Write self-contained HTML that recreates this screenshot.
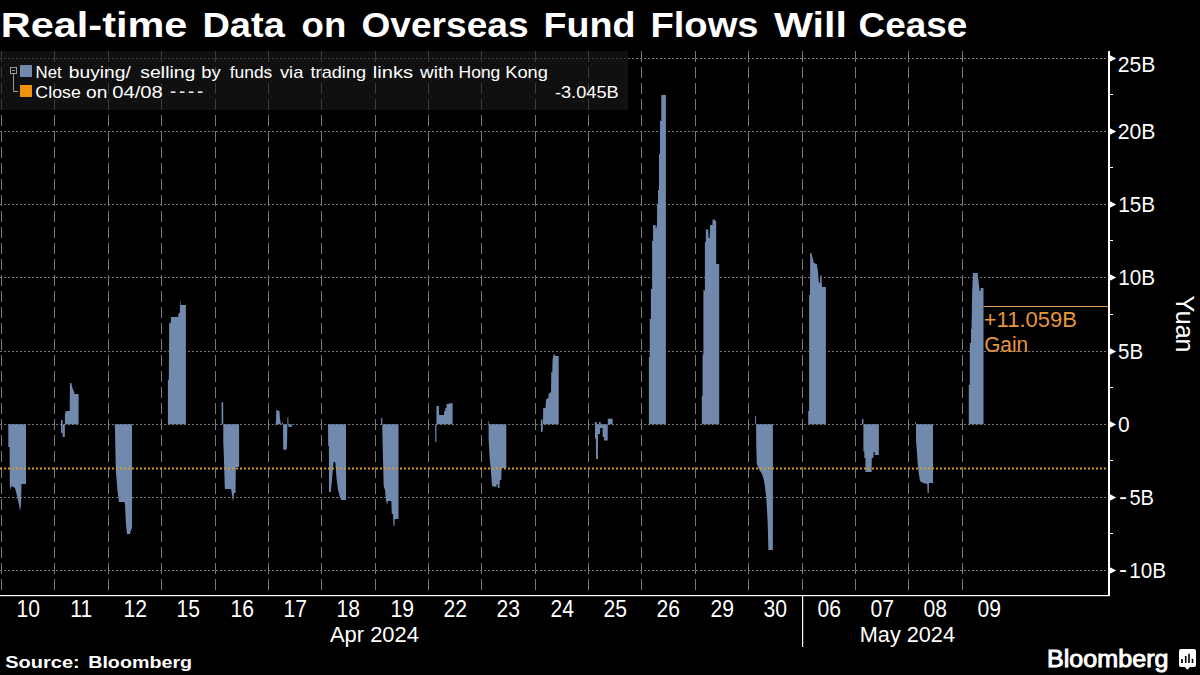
<!DOCTYPE html>
<html><head><meta charset="utf-8"><title>Real-time Data on Overseas Fund Flows Will Cease</title>
<style>
html,body{margin:0;padding:0;background:#000;width:1200px;height:675px;overflow:hidden;font-family:"Liberation Sans",sans-serif;}
svg{display:block;}
</style></head><body>
<svg width="1200" height="675" viewBox="0 0 1200 675"><text x="0.72" y="37" font-family="Liberation Sans" font-weight="bold" font-size="35.5" fill="#fff" textLength="186.71" lengthAdjust="spacingAndGlyphs">Real-time</text><text x="202.45" y="37" font-family="Liberation Sans" font-weight="bold" font-size="35.5" fill="#fff" textLength="82.34" lengthAdjust="spacingAndGlyphs">Data</text><text x="301.57" y="37" font-family="Liberation Sans" font-weight="bold" font-size="35.5" fill="#fff" textLength="44.68" lengthAdjust="spacingAndGlyphs">on</text><text x="361.48" y="37" font-family="Liberation Sans" font-weight="bold" font-size="35.5" fill="#fff" textLength="167.04" lengthAdjust="spacingAndGlyphs">Overseas</text><text x="543.48" y="37" font-family="Liberation Sans" font-weight="bold" font-size="35.5" fill="#fff" textLength="91.98" lengthAdjust="spacingAndGlyphs">Fund</text><text x="650.44" y="37" font-family="Liberation Sans" font-weight="bold" font-size="35.5" fill="#fff" textLength="108.14" lengthAdjust="spacingAndGlyphs">Flows</text><text x="773.96" y="37" font-family="Liberation Sans" font-weight="bold" font-size="35.5" fill="#fff" textLength="72.95" lengthAdjust="spacingAndGlyphs">Will</text><text x="858.49" y="37" font-family="Liberation Sans" font-weight="bold" font-size="35.5" fill="#fff" textLength="108.76" lengthAdjust="spacingAndGlyphs">Cease</text><line x1="0" y1="58.5" x2="1108" y2="58.5" stroke="#777777" stroke-width="1" stroke-dasharray="2 2"/><line x1="0" y1="131.5" x2="1108" y2="131.5" stroke="#777777" stroke-width="1" stroke-dasharray="2 2"/><line x1="0" y1="204.5" x2="1108" y2="204.5" stroke="#777777" stroke-width="1" stroke-dasharray="2 2"/><line x1="0" y1="277.5" x2="1108" y2="277.5" stroke="#777777" stroke-width="1" stroke-dasharray="2 2"/><line x1="0" y1="351.5" x2="1108" y2="351.5" stroke="#777777" stroke-width="1" stroke-dasharray="2 2"/><line x1="0" y1="424.5" x2="1108" y2="424.5" stroke="#777777" stroke-width="1" stroke-dasharray="2 2"/><line x1="0" y1="497.5" x2="1108" y2="497.5" stroke="#777777" stroke-width="1" stroke-dasharray="2 2"/><line x1="0" y1="570.5" x2="1108" y2="570.5" stroke="#777777" stroke-width="1" stroke-dasharray="2 2"/><line x1="1.5" y1="51" x2="1.5" y2="595" stroke="#777777" stroke-width="1" stroke-dasharray="11 5"/><line x1="54.5" y1="51" x2="54.5" y2="595" stroke="#777777" stroke-width="1" stroke-dasharray="11 5"/><line x1="108.5" y1="51" x2="108.5" y2="595" stroke="#777777" stroke-width="1" stroke-dasharray="11 5"/><line x1="161.5" y1="51" x2="161.5" y2="595" stroke="#777777" stroke-width="1" stroke-dasharray="11 5"/><line x1="215.5" y1="51" x2="215.5" y2="595" stroke="#777777" stroke-width="1" stroke-dasharray="11 5"/><line x1="268.5" y1="51" x2="268.5" y2="595" stroke="#777777" stroke-width="1" stroke-dasharray="11 5"/><line x1="321.5" y1="51" x2="321.5" y2="595" stroke="#777777" stroke-width="1" stroke-dasharray="11 5"/><line x1="375.5" y1="51" x2="375.5" y2="595" stroke="#777777" stroke-width="1" stroke-dasharray="11 5"/><line x1="428.5" y1="51" x2="428.5" y2="595" stroke="#777777" stroke-width="1" stroke-dasharray="11 5"/><line x1="481.5" y1="51" x2="481.5" y2="595" stroke="#777777" stroke-width="1" stroke-dasharray="11 5"/><line x1="535.5" y1="51" x2="535.5" y2="595" stroke="#777777" stroke-width="1" stroke-dasharray="11 5"/><line x1="588.5" y1="51" x2="588.5" y2="595" stroke="#777777" stroke-width="1" stroke-dasharray="11 5"/><line x1="641.5" y1="51" x2="641.5" y2="595" stroke="#777777" stroke-width="1" stroke-dasharray="11 5"/><line x1="695.5" y1="51" x2="695.5" y2="595" stroke="#777777" stroke-width="1" stroke-dasharray="11 5"/><line x1="748.5" y1="51" x2="748.5" y2="595" stroke="#777777" stroke-width="1" stroke-dasharray="11 5"/><line x1="855.5" y1="51" x2="855.5" y2="595" stroke="#777777" stroke-width="1" stroke-dasharray="11 5"/><line x1="908.5" y1="51" x2="908.5" y2="595" stroke="#777777" stroke-width="1" stroke-dasharray="11 5"/><line x1="962.5" y1="51" x2="962.5" y2="595" stroke="#777777" stroke-width="1" stroke-dasharray="11 5"/><rect x="0" y="51" width="628" height="59" fill="rgb(26,26,26)" fill-opacity="0.62"/><polygon points="8.3,424.3 8.3,447.0 9.6,447.0 9.8,486.0 10.5,490.0 11.5,486.0 15.0,488.0 17.0,496.0 19.0,505.0 20.0,511.0 21.0,505.0 21.5,484.0 26.0,484.0 26.0,424.3" fill="#7189ad"/><polygon points="61.0,424.3 61.0,420.0 62.6,420.0 62.7,437.0 64.8,437.0 64.9,414.6 65.9,411.0 69.7,411.0 69.9,383.0 71.3,383.0 72.2,387.0 73.2,390.0 74.2,392.0 74.3,394.0 78.6,394.0 78.6,424.3" fill="#7189ad"/><polygon points="114.5,424.3 114.5,422.0 115.0,430.0 115.3,445.0 115.8,470.0 117.3,489.0 119.0,502.0 124.5,502.0 125.0,505.0 126.0,525.0 127.0,534.0 130.0,534.0 131.0,530.0 132.0,528.0 132.0,424.3" fill="#7189ad"/><polygon points="167.9,424.3 167.9,380.0 168.8,380.0 169.2,323.0 170.8,323.0 171.0,317.0 178.3,317.0 178.5,313.0 179.8,313.0 180.2,299.0 180.8,305.0 185.9,305.0 185.9,424.3" fill="#7189ad"/><polygon points="221.6,424.3 221.6,402.3 223.2,402.3 223.3,443.0 224.0,460.0 224.8,489.0 228.0,489.0 231.0,489.0 232.0,495.0 233.2,502.0 234.0,493.0 235.5,493.0 235.8,467.0 239.1,467.0 239.1,424.3" fill="#7189ad"/><polygon points="275.2,424.3 275.2,428.0 276.0,421.0 276.2,410.0 279.5,411.0 280.0,419.0 281.0,424.3 283.0,422.0 283.2,449.7 286.5,449.7 287.0,447.0 287.5,417.0 288.3,417.0 288.5,427.0 291.8,427.0 291.8,424.3" fill="#7189ad"/><polygon points="328.0,424.3 328.0,422.0 328.2,446.0 328.9,446.0 329.0,492.0 330.8,492.0 333.6,462.0 335.3,462.0 336.5,478.0 338.0,490.0 340.0,497.0 341.3,500.0 346.0,500.0 346.0,424.3" fill="#7189ad"/><polygon points="381.1,424.3 381.1,418.0 382.3,418.0 382.3,430.0 382.8,452.0 383.7,486.0 385.0,490.0 386.0,500.0 387.0,505.0 387.9,501.0 391.3,501.0 391.8,514.0 393.0,514.0 393.5,526.0 394.5,526.0 394.8,519.0 398.5,519.0 398.5,424.3" fill="#7189ad"/><polygon points="435.2,424.3 435.2,442.0 436.4,442.0 436.5,406.0 438.9,406.0 439.1,415.0 444.0,415.0 444.2,411.0 445.2,411.0 445.4,408.0 446.4,408.0 446.6,404.0 452.6,403.0 452.6,424.3" fill="#7189ad"/><polygon points="487.9,424.3 487.9,421.0 488.6,421.0 488.6,439.0 489.7,459.0 490.9,470.0 492.0,486.0 496.3,487.0 496.8,484.0 497.6,484.0 497.9,488.0 499.5,488.0 499.8,480.0 501.3,480.0 501.6,468.0 506.3,468.0 506.3,424.3" fill="#7189ad"/><polygon points="540.9,424.3 540.9,419.0 541.5,430.0 542.3,432.0 543.0,420.0 543.2,408.0 545.5,408.0 545.7,404.0 546.2,399.0 548.4,398.0 548.6,394.0 551.0,392.0 551.3,372.0 552.3,372.0 552.6,359.0 553.5,355.0 554.5,354.0 555.4,356.0 558.7,356.0 558.7,424.3" fill="#7189ad"/><polygon points="595.0,424.3 595.0,438.7 595.9,438.7 596.0,459.0 597.9,459.0 598.0,434.0 600.0,434.0 600.1,428.0 602.6,428.0 602.7,437.0 604.0,437.0 604.1,440.5 607.7,440.5 607.8,418.7 612.7,418.7 612.7,424.3" fill="#7189ad"/><polygon points="648.9,424.3 648.9,357.0 649.7,357.0 649.7,319.0 650.9,319.0 650.9,289.0 652.1,289.0 652.1,241.0 653.1,241.0 653.1,225.0 655.5,225.0 656.0,229.0 657.0,225.0 657.1,204.0 658.0,204.0 658.0,190.0 659.0,190.0 659.0,154.0 660.0,154.0 660.0,121.0 661.3,121.0 661.3,95.0 665.9,95.0 665.9,424.3" fill="#7189ad"/><polygon points="701.8,424.3 701.8,396.0 702.6,396.0 702.6,354.5 703.4,354.5 703.4,290.0 704.6,290.0 704.6,291.0 704.9,291.0 704.9,242.0 705.8,242.0 705.8,229.5 708.2,229.5 708.6,238.0 709.7,238.0 710.0,225.0 712.4,225.0 712.6,219.5 714.6,219.5 715.5,221.0 716.2,221.0 716.2,264.0 719.2,264.0 719.2,424.3" fill="#7189ad"/><polygon points="755.1,424.3 755.1,416.0 756.0,416.0 756.3,448.0 756.8,464.0 758.4,468.0 760.7,472.0 762.0,474.0 764.2,481.0 766.3,498.0 767.7,523.0 768.4,550.0 772.9,550.0 772.9,424.3" fill="#7189ad"/><polygon points="808.2,424.3 808.2,411.0 809.1,411.0 809.1,295.0 810.0,295.0 810.2,253.0 811.5,253.0 812.4,257.0 813.9,263.0 816.8,264.0 818.0,272.0 819.0,283.0 819.8,283.0 820.5,275.0 821.3,275.0 822.0,287.0 825.9,287.0 825.9,424.3" fill="#7189ad"/><polygon points="862.0,424.3 862.0,419.0 863.4,419.0 863.4,451.5 864.3,451.5 864.3,458.0 865.4,458.0 865.4,472.0 871.6,472.0 871.8,458.0 873.4,458.0 873.6,452.0 874.7,452.0 874.8,455.0 878.9,455.0 878.9,424.3" fill="#7189ad"/><polygon points="915.3,424.3 915.3,422.0 916.0,422.0 916.0,440.0 916.7,449.0 917.6,463.0 918.7,473.0 920.0,481.0 923.0,483.0 927.3,484.0 927.6,493.0 928.8,493.0 929.0,483.0 933.0,483.0 933.0,424.3" fill="#7189ad"/><polygon points="968.8,424.3 968.8,385.0 969.8,385.0 969.8,343.0 971.0,343.0 971.0,329.0 971.5,329.0 972.2,292.0 972.9,273.0 977.6,273.0 979.1,286.0 979.5,291.0 980.5,291.0 980.7,288.0 983.5,288.0 983.5,424.3" fill="#7189ad"/><rect x="595" y="422" width="1.8" height="2.4" fill="#7189ad"/><rect x="61" y="424" width="1.6" height="9" fill="#7189ad"/><rect x="541" y="419.5" width="1.4" height="12.5" fill="#7189ad"/><rect x="598.9" y="422" width="1.8" height="2.4" fill="#7189ad"/><line x1="0" y1="468.5" x2="1107" y2="468.5" stroke="#d09a3c" stroke-width="2" stroke-dasharray="2 2"/><rect x="1108" y="51" width="2" height="545" fill="#fff"/><rect x="0" y="595" width="1110" height="1.2" fill="#fff"/><line x1="802.5" y1="51" x2="802.5" y2="595" stroke="#777777" stroke-width="1" stroke-dasharray="11 5"/><rect x="802" y="595" width="1.2" height="52" fill="#fff"/><polygon points="1110,55.3 1116.2,58.5 1110,61.7" fill="#fff"/><rect x="1110" y="94" width="3" height="1" fill="#fff"/><polygon points="1110,128.3 1116.2,131.5 1110,134.7" fill="#fff"/><rect x="1110" y="167" width="3" height="1" fill="#fff"/><polygon points="1110,201.3 1116.2,204.5 1110,207.7" fill="#fff"/><rect x="1110" y="240" width="3" height="1" fill="#fff"/><polygon points="1110,274.3 1116.2,277.5 1110,280.7" fill="#fff"/><rect x="1110" y="314" width="3" height="1" fill="#fff"/><polygon points="1110,348.3 1116.2,351.5 1110,354.7" fill="#fff"/><rect x="1110" y="387" width="3" height="1" fill="#fff"/><polygon points="1110,421.3 1116.2,424.5 1110,427.7" fill="#fff"/><rect x="1110" y="460" width="3" height="1" fill="#fff"/><polygon points="1110,494.3 1116.2,497.5 1110,500.7" fill="#fff"/><rect x="1110" y="533" width="3" height="1" fill="#fff"/><polygon points="1110,567.3 1116.2,570.5 1110,573.7" fill="#fff"/><text x="1117.69" y="72" font-family="Liberation Sans" font-size="22.5" fill="#fff" textLength="37.64" lengthAdjust="spacingAndGlyphs">25B</text><text x="1117.69" y="139" font-family="Liberation Sans" font-size="22.5" fill="#fff" textLength="37.69" lengthAdjust="spacingAndGlyphs">20B</text><text x="1118.17" y="211.8" font-family="Liberation Sans" font-size="22.5" fill="#fff" textLength="36.93" lengthAdjust="spacingAndGlyphs">15B</text><text x="1118.17" y="284.8" font-family="Liberation Sans" font-size="22.5" fill="#fff" textLength="36.93" lengthAdjust="spacingAndGlyphs">10B</text><text x="1118.08" y="358.7" font-family="Liberation Sans" font-size="22.5" fill="#fff" textLength="25.00" lengthAdjust="spacingAndGlyphs">5B</text><text x="1118.08" y="431.9" font-family="Liberation Sans" font-size="22.5" fill="#fff" textLength="11.64" lengthAdjust="spacingAndGlyphs">0</text><text x="1129.40" y="504.9" font-family="Liberation Sans" font-size="22.5" fill="#fff" textLength="24.57" lengthAdjust="spacingAndGlyphs">5B</text><text x="1129.33" y="577.9" font-family="Liberation Sans" font-size="22.5" fill="#fff" textLength="36.77" lengthAdjust="spacingAndGlyphs">10B</text><rect x="1120.2" y="497.2" width="5.9" height="1.9" fill="#fff"/><rect x="1120.2" y="570.1" width="5.9" height="1.9" fill="#fff"/><text transform="translate(1176.2,295.45) rotate(90)" x="0" y="0" font-family="Liberation Sans" font-size="25.6" fill="#fff" textLength="57.09" lengthAdjust="spacingAndGlyphs">Yuan</text><line x1="983.5" y1="306.5" x2="1108" y2="306.5" stroke="#e39a55" stroke-width="1"/><text x="983.72" y="326.9" font-family="Liberation Sans" font-size="21.5" fill="#e6963c" textLength="93.15" lengthAdjust="spacingAndGlyphs">+11.059B</text><text x="984.16" y="351.5" font-family="Liberation Sans" font-size="21.5" fill="#e6963c" textLength="44.00" lengthAdjust="spacingAndGlyphs">Gain</text><text transform="translate(28.17,617) scale(0.92,1)" x="0" y="0" font-family="Liberation Sans" font-size="23" fill="#fff" text-anchor="middle">10</text><text transform="translate(81.17,617) scale(0.92,1)" x="0" y="0" font-family="Liberation Sans" font-size="23" fill="#fff" text-anchor="middle">11</text><text transform="translate(135.17,617) scale(0.92,1)" x="0" y="0" font-family="Liberation Sans" font-size="23" fill="#fff" text-anchor="middle">12</text><text transform="translate(188.17,617) scale(0.92,1)" x="0" y="0" font-family="Liberation Sans" font-size="23" fill="#fff" text-anchor="middle">15</text><text transform="translate(242.17,617) scale(0.92,1)" x="0" y="0" font-family="Liberation Sans" font-size="23" fill="#fff" text-anchor="middle">16</text><text transform="translate(295.17,617) scale(0.92,1)" x="0" y="0" font-family="Liberation Sans" font-size="23" fill="#fff" text-anchor="middle">17</text><text transform="translate(348.17,617) scale(0.92,1)" x="0" y="0" font-family="Liberation Sans" font-size="23" fill="#fff" text-anchor="middle">18</text><text transform="translate(402.17,617) scale(0.92,1)" x="0" y="0" font-family="Liberation Sans" font-size="23" fill="#fff" text-anchor="middle">19</text><text transform="translate(455.17,617) scale(0.92,1)" x="0" y="0" font-family="Liberation Sans" font-size="23" fill="#fff" text-anchor="middle">22</text><text transform="translate(508.17,617) scale(0.92,1)" x="0" y="0" font-family="Liberation Sans" font-size="23" fill="#fff" text-anchor="middle">23</text><text transform="translate(562.17,617) scale(0.92,1)" x="0" y="0" font-family="Liberation Sans" font-size="23" fill="#fff" text-anchor="middle">24</text><text transform="translate(615.17,617) scale(0.92,1)" x="0" y="0" font-family="Liberation Sans" font-size="23" fill="#fff" text-anchor="middle">25</text><text transform="translate(668.17,617) scale(0.92,1)" x="0" y="0" font-family="Liberation Sans" font-size="23" fill="#fff" text-anchor="middle">26</text><text transform="translate(722.17,617) scale(0.92,1)" x="0" y="0" font-family="Liberation Sans" font-size="23" fill="#fff" text-anchor="middle">29</text><text transform="translate(775.17,617) scale(0.92,1)" x="0" y="0" font-family="Liberation Sans" font-size="23" fill="#fff" text-anchor="middle">30</text><text transform="translate(829.17,617) scale(0.92,1)" x="0" y="0" font-family="Liberation Sans" font-size="23" fill="#fff" text-anchor="middle">06</text><text transform="translate(882.17,617) scale(0.92,1)" x="0" y="0" font-family="Liberation Sans" font-size="23" fill="#fff" text-anchor="middle">07</text><text transform="translate(935.17,617) scale(0.92,1)" x="0" y="0" font-family="Liberation Sans" font-size="23" fill="#fff" text-anchor="middle">08</text><text transform="translate(989.17,617) scale(0.92,1)" x="0" y="0" font-family="Liberation Sans" font-size="23" fill="#fff" text-anchor="middle">09</text><text x="329.96" y="641.7" font-family="Liberation Sans" font-size="22.5" fill="#fff" textLength="88.99" lengthAdjust="spacingAndGlyphs">Apr 2024</text><text x="859.82" y="641.5" font-family="Liberation Sans" font-size="22.5" fill="#fff" textLength="95.12" lengthAdjust="spacingAndGlyphs">May 2024</text><rect x="10.5" y="67.5" width="6" height="6" fill="none" stroke="#9a9a9a" stroke-width="1"/><rect x="12" y="70" width="3" height="1" fill="#9a9a9a"/><path d="M13.5 73.5 V91.5 H18" fill="none" stroke="#9a9a9a" stroke-width="1"/><rect x="20" y="65" width="12" height="12" fill="#7189ad"/><rect x="20" y="85" width="12" height="12" fill="#ef930c"/><text x="35.62" y="78" font-family="Liberation Sans" font-size="17" fill="#fff" textLength="26.20" lengthAdjust="spacingAndGlyphs">Net</text><text x="68.75" y="78" font-family="Liberation Sans" font-size="17" fill="#fff" textLength="62.04" lengthAdjust="spacingAndGlyphs">buying/</text><text x="140.25" y="78" font-family="Liberation Sans" font-size="17" fill="#fff" textLength="55.19" lengthAdjust="spacingAndGlyphs">selling</text><text x="201.30" y="78" font-family="Liberation Sans" font-size="17" fill="#fff" textLength="19.54" lengthAdjust="spacingAndGlyphs">by</text><text x="229.76" y="78" font-family="Liberation Sans" font-size="17" fill="#fff" textLength="42.58" lengthAdjust="spacingAndGlyphs">funds</text><text x="279.93" y="78" font-family="Liberation Sans" font-size="17" fill="#fff" textLength="23.38" lengthAdjust="spacingAndGlyphs">via</text><text x="310.53" y="78" font-family="Liberation Sans" font-size="17" fill="#fff" textLength="55.65" lengthAdjust="spacingAndGlyphs">trading</text><text x="372.85" y="78" font-family="Liberation Sans" font-size="17" fill="#fff" textLength="40.37" lengthAdjust="spacingAndGlyphs">links</text><text x="420.02" y="78" font-family="Liberation Sans" font-size="17" fill="#fff" textLength="33.72" lengthAdjust="spacingAndGlyphs">with</text><text x="458.57" y="78" font-family="Liberation Sans" font-size="17" fill="#fff" textLength="41.76" lengthAdjust="spacingAndGlyphs">Hong</text><text x="505.20" y="78" font-family="Liberation Sans" font-size="17" fill="#fff" textLength="42.68" lengthAdjust="spacingAndGlyphs">Kong</text><text x="35.39" y="97.7" font-family="Liberation Sans" font-size="17" fill="#fff" textLength="45.38" lengthAdjust="spacingAndGlyphs">Close</text><text x="86.09" y="97.7" font-family="Liberation Sans" font-size="17" fill="#fff" textLength="21.36" lengthAdjust="spacingAndGlyphs">on</text><text x="112.31" y="97.7" font-family="Liberation Sans" font-size="17" fill="#fff" textLength="50.46" lengthAdjust="spacingAndGlyphs">04/08</text><rect x="170.80" y="91.4" width="4.7" height="1.5" fill="#fff"/><rect x="179.80" y="91.4" width="4.7" height="1.5" fill="#fff"/><rect x="188.80" y="91.4" width="4.7" height="1.5" fill="#fff"/><rect x="197.80" y="91.4" width="4.7" height="1.5" fill="#fff"/><text x="554.90" y="98" font-family="Liberation Sans" font-size="17" fill="#fff" textLength="63.77" lengthAdjust="spacingAndGlyphs">-3.045B</text><text x="5.22" y="667.7" font-family="Liberation Sans" font-weight="bold" font-size="17.4" fill="#fff" textLength="74.45" lengthAdjust="spacingAndGlyphs">Source:</text><text x="88.18" y="667.7" font-family="Liberation Sans" font-weight="bold" font-size="17.4" fill="#fff" textLength="103.94" lengthAdjust="spacingAndGlyphs">Bloomberg</text><text x="1047.04" y="667" font-family="Liberation Sans" font-size="23.5" fill="#fff" textLength="121.47" lengthAdjust="spacingAndGlyphs" stroke="#fff" stroke-width="0.9">Bloomberg</text><path d="M1181 649 H1194 Q1196 649 1196 651 V665 Q1196 667 1194 667 H1190 L1187.3 669.8 L1184.7 667 H1181 Q1179 667 1179 665 V651 Q1179 649 1181 649 Z" fill="#fff"/><rect x="1181.1" y="659" width="1.7" height="4" fill="#000"/><rect x="1184.9" y="656" width="1.6" height="7" fill="#000"/><rect x="1188.2" y="653.8" width="1.6" height="9.2" fill="#000"/><rect x="1191.7" y="658.8" width="1.6" height="4.2" fill="#000"/></svg>
</body></html>
